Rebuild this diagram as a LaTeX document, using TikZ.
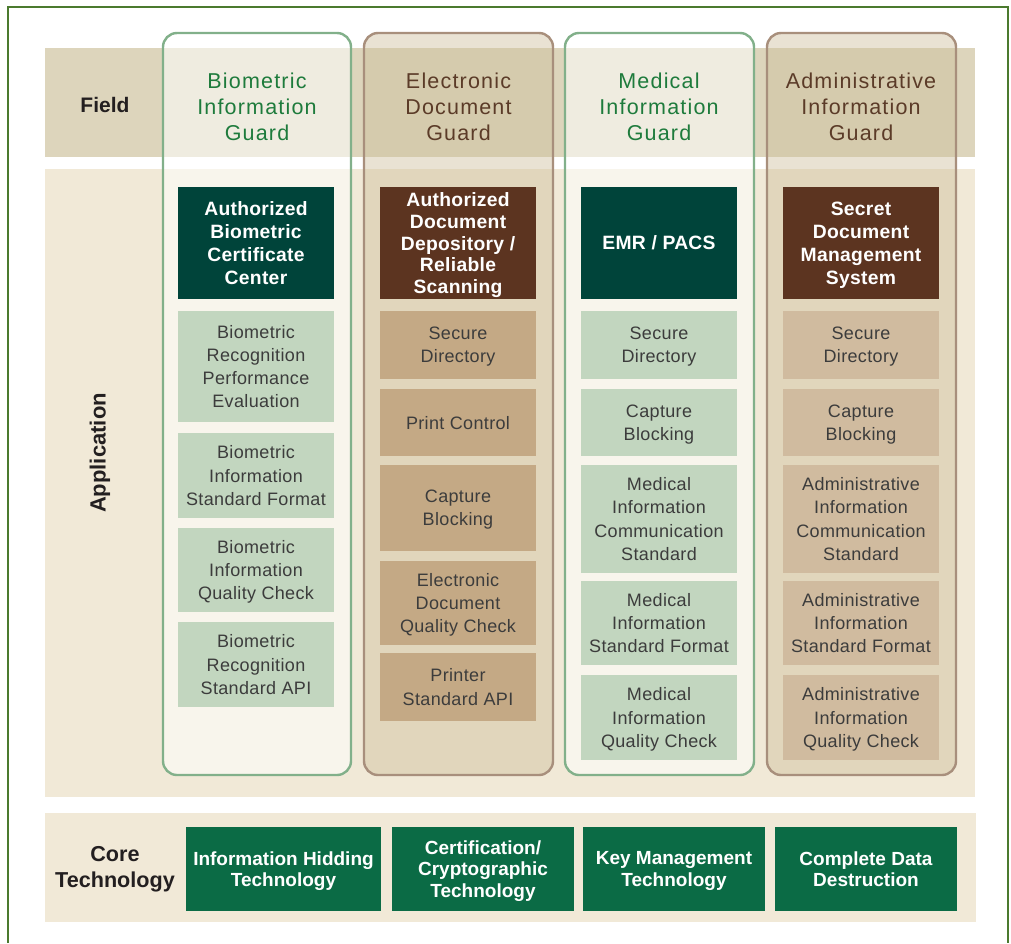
\documentclass[tikz,border=0pt]{standalone}
\usepackage{fontspec}
\setmainfont{Liberation Sans}
\newfontfamily\titlefont[LetterSpace=5.5]{Liberation Sans}
\newfontfamily\bodyfont[LetterSpace=2]{Liberation Sans}
\newfontfamily\headfont[LetterSpace=1.5]{Liberation Sans Bold}
\definecolor{frame}{HTML}{4B7A2E}
\definecolor{fieldband}{HTML}{DDD5BC}
\definecolor{appband}{HTML}{F1E9D7}
\definecolor{gline}{HTML}{82B08A}
\definecolor{bline}{HTML}{A88F7C}
\definecolor{btint}{HTML}{CDBF9B}
\definecolor{gbox}{HTML}{C2D6BF}
\definecolor{bbox}{HTML}{C4A985}
\definecolor{lbbox}{HTML}{D0BB9F}
\definecolor{ghead}{HTML}{00443A}
\definecolor{bhead}{HTML}{5C3420}
\definecolor{corebox}{HTML}{0B6B45}
\definecolor{gtitle}{HTML}{1E7B3C}
\definecolor{btitle}{HTML}{5B3B28}
\definecolor{bodytext}{HTML}{3C3C3C}
\definecolor{labeltext}{HTML}{231F20}
\tikzset{
  gcol/.style={draw=gline,line width=2.4pt,rounded corners=14pt,fill=white,fill opacity=0.55},
  bcol/.style={draw=bline,line width=2.4pt,rounded corners=14pt,fill=btint,fill opacity=0.44},
  coltitle/.style={align=center,font=\titlefont\fontsize{21.5}{26}\selectfont,inner sep=0pt},
  headbox/.style={minimum width=156pt,inner sep=0pt,align=center,text=white,text depth=-1pt,
     font=\headfont\fontsize{19.3}{23}\selectfont},
  subbox/.style={minimum width=156pt,inner sep=0pt,align=center,text=bodytext,text depth=-1.5pt,
     font=\bodyfont\fontsize{18}{23.3}\selectfont},
  corenode/.style={fill=corebox,minimum height=84pt,inner sep=0pt,align=center,text=white,text depth=-2pt,
     font=\bfseries\fontsize{19}{21.5}\selectfont},
  rowlabel/.style={align=center,text=labeltext,font=\bfseries\fontsize{21}{26}\selectfont,inner sep=0pt}
}
\begin{document}
\begin{tikzpicture}[x=1pt,y=-1pt]
\useasboundingbox (0,0) rectangle (1011,943);
\fill[white] (0,0) rectangle (1011,943);
% outer frame
\draw[frame,line width=2pt] (8,943) -- (8,7) -- (1008,7) -- (1008,943);
% bands
\fill[fieldband] (45,48) rectangle (975,157);
\fill[appband] (45,169) rectangle (975,797);
\fill[appband] (45,813) rectangle (976,922);
% columns
\draw[gcol] (163,33) rectangle (351,775);
\draw[bcol] (364,33) rectangle (553,775);
\draw[gcol] (565,33) rectangle (754,775);
\draw[bcol] (767,33) rectangle (956,775);
% row labels
\node[rowlabel] (field) at (105,105) {Field};
\node[rowlabel,rotate=90,font=\bfseries\fontsize{22}{26}\selectfont] (application) at (100,453) {Application};
\node[rowlabel,text depth=-1pt,font=\bfseries\fontsize{21.6}{26}\selectfont] (coretech) at (115,867) {Core\\Technology};
% column titles
\node[coltitle,text=gtitle] (t1) at (257,106.5) {Biometric\\Information\\Guard};
\node[coltitle,text=btitle] (t2) at (458.5,106.5) {Electronic\\Document\\Guard};
\node[coltitle,text=gtitle] (t3) at (659,106.5) {Medical\\Information\\Guard};
\node[coltitle,text=btitle] (t4) at (861,106.5) {Administrative\\Information\\Guard};
% column 1
\node[headbox,fill=ghead,minimum height=112pt] (h1) at (256,243) {Authorized\\Biometric\\Certificate\\Center};
\node[subbox,fill=gbox,minimum height=111pt] (a1) at (256,366.5) {Biometric\\Recognition\\Performance\\Evaluation};
\node[subbox,fill=gbox,minimum height=85pt] (a2) at (256,475.5) {Biometric\\Information\\Standard Format};
\node[subbox,fill=gbox,minimum height=84pt] (a3) at (256,570) {Biometric\\Information\\Quality Check};
\node[subbox,fill=gbox,minimum height=85pt] (a4) at (256,664.5) {Biometric\\Recognition\\Standard API};
% column 2
\node[headbox,fill=bhead,minimum height=112pt,font=\headfont\fontsize{19.3}{21.5}\selectfont] (h2) at (458,243) {Authorized\\Document\\Depository /\\Reliable\\Scanning};
\node[subbox,fill=bbox,minimum height=68pt] (b1) at (458,345) {Secure\\Directory};
\node[subbox,fill=bbox,minimum height=67pt] (b2) at (458,422.5) {Print Control};
\node[subbox,fill=bbox,minimum height=86pt] (b3) at (458,508) {Capture\\Blocking};
\node[subbox,fill=bbox,minimum height=84pt] (b4) at (458,603) {Electronic\\Document\\Quality Check};
\node[subbox,fill=bbox,minimum height=68pt] (b5) at (458,687) {Printer\\Standard API};
% column 3
\node[headbox,fill=ghead,minimum height=112pt] (h3) at (659,243) {EMR / PACS};
\node[subbox,fill=gbox,minimum height=68pt] (c1) at (659,345) {Secure\\Directory};
\node[subbox,fill=gbox,minimum height=67pt] (c2) at (659,422.5) {Capture\\Blocking};
\node[subbox,fill=gbox,minimum height=108pt] (c3) at (659,519) {Medical\\Information\\Communication\\Standard};
\node[subbox,fill=gbox,minimum height=84pt] (c4) at (659,623) {Medical\\Information\\Standard Format};
\node[subbox,fill=gbox,minimum height=85pt] (c5) at (659,717.5) {Medical\\Information\\Quality Check};
% column 4
\node[headbox,fill=bhead,minimum height=112pt] (h4) at (861,243) {Secret\\Document\\Management\\System};
\node[subbox,fill=lbbox,minimum height=68pt] (d1) at (861,345) {Secure\\Directory};
\node[subbox,fill=lbbox,minimum height=67pt] (d2) at (861,422.5) {Capture\\Blocking};
\node[subbox,fill=lbbox,minimum height=108pt] (d3) at (861,519) {Administrative\\Information\\Communication\\Standard};
\node[subbox,fill=lbbox,minimum height=84pt] (d4) at (861,623) {Administrative\\Information\\Standard Format};
\node[subbox,fill=lbbox,minimum height=85pt] (d5) at (861,717.5) {Administrative\\Information\\Quality Check};
% core technology
\node[corenode,minimum width=195pt] (k1) at (283.5,869) {Information Hidding\\Technology};
\node[corenode,minimum width=182pt] (k2) at (483,869) {Certification/\\Cryptographic\\Technology};
\node[corenode,minimum width=182pt] (k3) at (674,869) {Key Management\\Technology};
\node[corenode,minimum width=182pt] (k4) at (866,869) {Complete Data\\Destruction};
\end{tikzpicture}
\end{document}
